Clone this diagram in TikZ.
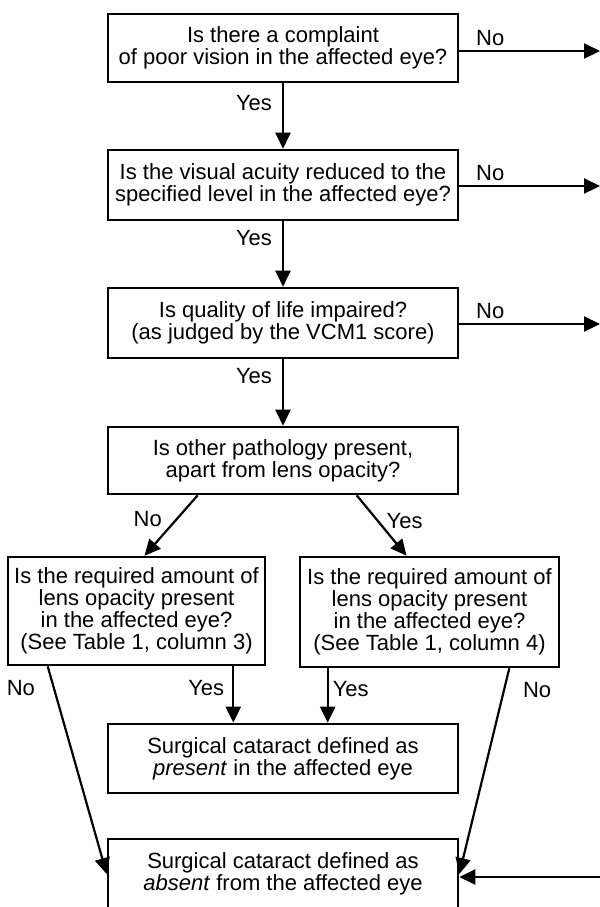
\documentclass[tikz,border=0pt]{standalone}
\usepackage{fontspec}
\setmainfont{Liberation Sans}
\usetikzlibrary{arrows.meta,calc,positioning}

\tikzset{
  qbox/.style={draw,line width=1.3pt,align=center,inner sep=2pt,minimum width=175pt,font=\fontsize{11}{11}\selectfont},
  arr/.style={line width=1.1pt,-{Triangle[length=8pt,width=7.5pt]}},
  lbl/.style={font=\fontsize{11}{11}\selectfont,inner sep=2pt},
}

\begin{document}
\begin{tikzpicture}[x=0.5pt,y=-0.5pt]
  \useasboundingbox (0,0) rectangle (600,907);

  % questions down the middle
  \node[qbox,minimum height=34pt] (q1) at (283,48) {Is there a complaint\\of poor vision in the affected eye?};
  \node[qbox,minimum height=35pt] (q2) at (283,185) {Is the visual acuity reduced to the\\specified level in the affected eye?};
  \node[qbox,minimum height=35pt] (q3) at (283,323) {Is quality of life impaired?\\(as judged by the VCM1 score)};
  \node[qbox,minimum height=33.5pt] (q4) at (283,460.5) {Is other pathology present,\\apart from lens opacity?};

  % the two lens questions
  \node[qbox,minimum width=128.5pt,minimum height=54pt] (q5) at (136.5,611) {Is the required amount of\\lens opacity present\\in the affected eye?\\(See Table 1, column 3)};
  \node[qbox,minimum width=129.5pt,minimum height=55pt] (q6) at (429.5,612) {Is the required amount of\\lens opacity present\\in the affected eye?\\(See Table 1, column 4)};

  % outcomes
  \node[qbox,minimum height=34.5pt] (present) at (283,758.5) {Surgical cataract defined as\\\emph{present} in the affected eye};
  \node[qbox,minimum height=35pt] (absent) at (283,874) {Surgical cataract defined as\\\emph{absent} from the affected eye};

  \coordinate (n1) at (600,51);
  \coordinate (n2) at (600,186);
  \coordinate (n3) at (600,324);
  \coordinate (n4) at (600,877);

  \draw[arr] (q1.east |- n1) -- node[lbl,above,pos=0.22] {No} (n1);
  \draw[arr] (q2.east |- n2) -- node[lbl,above,pos=0.22] {No} (n2);
  \draw[arr] (q3.east |- n3) -- node[lbl,above,pos=0.22] {No} (n3);

  \draw[arr] (q1.south) -- node[lbl,left,pos=0.3,xshift=-3pt] {Yes} (q2.north);
  \draw[arr] (q2.south) -- node[lbl,left,pos=0.25,xshift=-3pt] {Yes} (q3.north);
  \draw[arr] (q3.south) -- node[lbl,left,pos=0.25,xshift=-3pt] {Yes} (q4.north);

  \draw[arr] ($(q4.south west)+(91,0)$) -- node[lbl,left,pos=0.39,xshift=-5pt] {No} ($(q5.north)+(8,0)$);
  \draw[arr] ($(q4.south west)+(250,0)$) -- node[lbl,right,pos=0.42,xshift=2pt] {Yes} ($(q6.north)+(-23,0)$);

  \draw[arr] ($(q5.south east)+(-33,0)$) coordinate (y5) -- node[lbl,left,pos=0.39,xshift=-2pt] {Yes} (y5 |- present.north);
  \draw[arr] ($(q6.south west)+(29,0)$) coordinate (y6) -- node[lbl,right,pos=0.39] {Yes} (y6 |- present.north);

  \draw[arr] ($(q5.south west)+(41,0)$) -- node[lbl,left,pos=0.107,xshift=-7pt] {No} (absent.west);
  \draw[arr] ($(q6.south east)+(-51,0)$) -- node[lbl,right,pos=0.107,xshift=7pt] {No} (absent.east);
  \draw[arr] (n4) -- (n4 -| absent.east);
\end{tikzpicture}
\end{document}
